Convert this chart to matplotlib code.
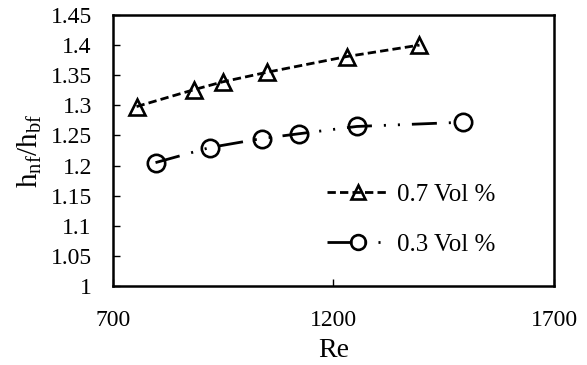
import matplotlib.pyplot as plt
import numpy as np

plt.rcParams['font.family'] = ['Liberation Serif', 'DejaVu Serif']
plt.rcParams['mathtext.fontset'] = 'custom'
plt.rcParams['mathtext.rm'] = 'Liberation Serif'

re_07 = [754, 884, 949, 1050, 1230, 1395]
h_07 = [1.298, 1.326, 1.339, 1.355, 1.381, 1.400]

re_03 = [797, 920, 1038, 1123, 1253, 1493]
h_03 = [1.205, 1.230, 1.245, 1.253, 1.265, 1.272]

fig = plt.figure(figsize=(5.87, 3.65), dpi=100)
ax = fig.add_axes([0.192, 0.216, 0.752, 0.743])

ax.plot(re_07, h_07, color='black', lw=2.0, linestyle=(0, (3, 1.5)),
        marker='^', markersize=12, markerfacecolor='none',
        markeredgecolor='black', markeredgewidth=1.9, label='0.7 Vol %')
ax.plot(re_03, h_03, color='black', lw=2.0, linestyle=(0, (9, 4.3, 0.75, 4.3, 0.75, 4.3)),
        marker='o', markersize=12.5, markerfacecolor='none',
        markeredgecolor='black', markeredgewidth=1.9, label='0.3 Vol %')

ax.set_xlim(700, 1700)
ax.set_ylim(1.0, 1.45)
ax.set_xticks([700, 1200, 1700])
ax.set_yticks(np.arange(1.0, 1.4501, 0.05))
ax.set_yticklabels(['1', '1.05', '1.1', '1.15', '1.2', '1.25', '1.3', '1.35', '1.4', '1.45'])
ax.tick_params(direction='in', labelsize=17, length=5, width=1, pad=15)
ax.tick_params(axis='x', pad=17)
for s in ax.spines.values():
    s.set_linewidth(1.8)

ax.set_xlabel('Re', fontsize=20, labelpad=5)
ax.set_ylabel(r'h$_{\mathrm{nf}}$/h$_{\mathrm{bf}}$', fontsize=21, labelpad=5)

ax.legend(loc='lower right', frameon=False, fontsize=18, labelspacing=1.1,
          handlelength=2.5, handletextpad=0.3, numpoints=1, markerscale=0.85,
          borderaxespad=0, bbox_to_anchor=(0.889, 0.074))

plt.savefig('out.png', dpi=100)
